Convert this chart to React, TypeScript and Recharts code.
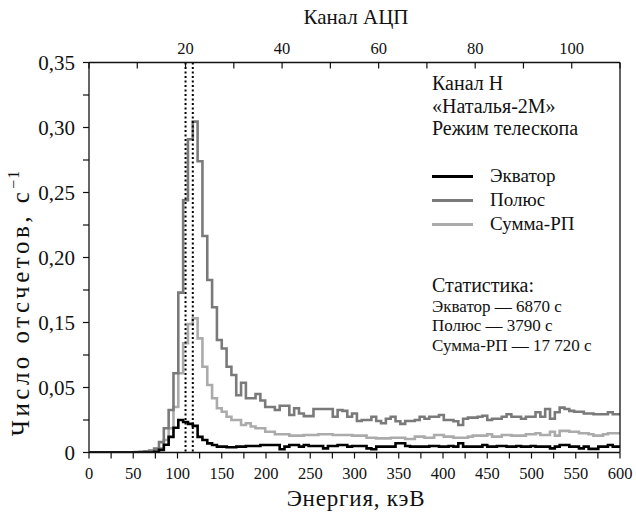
import { LineChart, Line, XAxis, YAxis, ReferenceLine, Legend } from 'recharts'

// channel numbers of the ADC (bins are one channel wide, centred on the number)
const CHANNELS = Array.from({ length: 111 }, (_, i) => i)

const EQUATOR = [
  0, 0, 0, 0, 0, 0, 0, 0, 0, 0,
  0, 0, 0, 0, 0.0005, 0.002, 0.006, 0.012, 0.019, 0.025,
  0.0235, 0.022, 0.0205, 0.012, 0.0096, 0.007, 0.0058, 0.0045, 0.0045, 0.004,
  0.004, 0.0045, 0.0045, 0.005, 0.005, 0.005, 0.0058, 0.0058, 0.0058, 0.0058,
  0.0025, 0.0045, 0.0058, 0.0058, 0.0045, 0.0058, 0.005, 0.005, 0.005, 0.0032,
  0.005, 0.005, 0.0058, 0.0058, 0.0045, 0.005, 0.005, 0.005, 0.0032, 0.0025,
  0.0045, 0.0045, 0.0045, 0.0045, 0.0071, 0.0071, 0.005, 0.0045, 0.0045, 0.0045,
  0.0045, 0.005, 0.005, 0.0045, 0.0045, 0.005, 0.0045, 0.0071, 0.0045, 0.0045,
  0.0045, 0.0045, 0.0058, 0.0045, 0.0045, 0.005, 0.005, 0.0045, 0.0045, 0.005,
  0.0045, 0.0045, 0.005, 0.0045, 0.0045, 0.0045, 0.0032, 0.0045, 0.0058, 0.0058,
  0.0045, 0.0045, 0.0032, 0.0045, 0.0028, 0.0028, 0.0045, 0.0045, 0.0058, 0.0045, 0.0045,
]

const POLE = [
  0, 0, 0, 0, 0, 0, 0, 0, 0, 0,
  0.0003, 0.0006, 0.001, 0.0015, 0.003, 0.008, 0.0186, 0.0327, 0.061, 0.123,
  0.194, 0.241, 0.2545, 0.224, 0.1665, 0.1327, 0.1117, 0.0865, 0.08, 0.066,
  0.0596, 0.044, 0.0537, 0.0417, 0.0417, 0.045, 0.04, 0.035, 0.035, 0.0327,
  0.036, 0.036, 0.0288, 0.034, 0.03, 0.028, 0.028, 0.0335, 0.0335, 0.0335,
  0.0335, 0.0275, 0.0327, 0.032, 0.0275, 0.03, 0.0242, 0.025, 0.025, 0.0275,
  0.0242, 0.0225, 0.026, 0.0275, 0.024, 0.022, 0.0242, 0.0242, 0.025, 0.0275,
  0.026, 0.0275, 0.0275, 0.0288, 0.025, 0.025, 0.024, 0.0212, 0.026, 0.0268,
  0.0268, 0.0275, 0.0283, 0.025, 0.026, 0.026, 0.0275, 0.0294, 0.0275, 0.0275,
  0.026, 0.0275, 0.0275, 0.031, 0.0275, 0.0335, 0.026, 0.031, 0.0345, 0.0335,
  0.032, 0.0314, 0.0314, 0.03, 0.03, 0.0294, 0.0294, 0.0294, 0.031, 0.0294, 0.0294,
]

const SUM_RP = [
  0, 0, 0, 0, 0, 0, 0, 0, 0, 0,
  0, 0.0003, 0.0006, 0.001, 0.002, 0.0032, 0.0096, 0.0186, 0.035, 0.061,
  0.084, 0.0988, 0.1032, 0.0878, 0.066, 0.0519, 0.0417, 0.034, 0.0314, 0.0275,
  0.025, 0.025, 0.0212, 0.0225, 0.02, 0.0186, 0.0186, 0.016, 0.016, 0.014,
  0.014, 0.014, 0.013, 0.013, 0.013, 0.0135, 0.0135, 0.0135, 0.014, 0.014,
  0.014, 0.0135, 0.0135, 0.0135, 0.0135, 0.013, 0.013, 0.013, 0.0114, 0.0114,
  0.0109, 0.0109, 0.0109, 0.0114, 0.0114, 0.0114, 0.0104, 0.0104, 0.0122, 0.0122,
  0.0114, 0.0114, 0.0135, 0.0135, 0.0122, 0.0122, 0.0114, 0.0114, 0.0114, 0.0122,
  0.013, 0.013, 0.013, 0.014, 0.0122, 0.0122, 0.0135, 0.0135, 0.013, 0.013,
  0.013, 0.014, 0.014, 0.0148, 0.0135, 0.0135, 0.016, 0.013, 0.0166, 0.0166,
  0.016, 0.016, 0.0148, 0.0148, 0.014, 0.013, 0.013, 0.014, 0.0148, 0.0148, 0.0148,
]

// energy scale: channel 110 sits at 600 keV
const KEV_PER_CHANNEL = 600 / 110
const ENERGY_TICKS = [0, 25, 50, 75, 100, 125, 150, 175, 200, 225, 250, 275, 300, 325, 350, 375, 400, 425, 450, 475, 500, 525, 550, 575, 600]
const CHANNEL_TICKS = [0, 10, 20, 30, 40, 50, 60, 70, 80, 90, 100, 110]
const CHANNEL_LABELS = [20, 40, 60, 80, 100]
const Y_TICKS = [0, 0.025, 0.05, 0.075, 0.1, 0.125, 0.15, 0.175, 0.2, 0.225, 0.25, 0.275, 0.3]
// labels as printed in the source figure
const Y_TICK_LABELS = ['0', '0,05', '0,15', '0,20', '0,25', '0,30', '0,35']
const MARKERS = [20, 21.5]

const LEGEND = [
  { name: 'Экватор', color: '#000000' },
  { name: 'Полюс', color: '#7a7a7a' },
  { name: 'Сумма-РП', color: '#ababab' },
]
const INFO = ['Канал Н', '«Наталья-2М»', 'Режим телескопа']
const STATS = ['Экватор — 6870 с', 'Полюс — 3790 с', 'Сумма-РП — 17 720 с']

const data = CHANNELS.map((ch, i) => ({
  ch,
  eq: EQUATOR[i],
  pole: POLE[i],
  sum: SUM_RP[i],
}))

const energyTickPos = ENERGY_TICKS.map((e) => e / KEV_PER_CHANNEL)

const FONT = '"Liberation Serif", "Times New Roman", Tinos, "DejaVu Serif", serif'
const xTickStyle = { fill: '#111', fontSize: 16.5, fontFamily: FONT }
const yTickStyle = { fill: '#111', fontSize: 21, fontFamily: FONT }

const LegendBox = () => (
  <div style={{ fontFamily: FONT, fontSize: 19, color: '#111' }}>
    {LEGEND.map((l) => (
      <div key={l.name} style={{ display: 'flex', alignItems: 'center', height: 24 }}>
        <span style={{ display: 'inline-block', width: 41, height: 3, background: l.color, marginRight: 17 }} />
        {l.name}
      </div>
    ))}
  </div>
)

export default function App() {
  return (
    <div style={{ position: 'absolute', left: 0, top: 0, width: 636, height: 515, background: '#fff', fontFamily: FONT }}>
      <LineChart width={636} height={515} data={data} margin={{ top: 32, right: 15, bottom: 32, left: 29 }}>
        <XAxis
          xAxisId="energy"
          dataKey="ch"
          type="number"
          domain={[0, 110]}
          allowDataOverflow
          ticks={energyTickPos}
          tickFormatter={(v: number) => {
            const e = Math.round(v * KEV_PER_CHANNEL)
            return e % 50 === 0 ? String(e) : ''
          }}
          interval={0}
          height={30.5}
          tick={xTickStyle}
          tickSize={6}
          tickMargin={9}
          axisLine={{ stroke: '#111', strokeWidth: 1.3 }}
          tickLine={{ stroke: '#111', strokeWidth: 1.2 }}
        />
        <XAxis
          xAxisId="chan"
          dataKey="ch"
          type="number"
          orientation="top"
          domain={[0, 110]}
          allowDataOverflow
          ticks={CHANNEL_TICKS}
          tickFormatter={(v: number) => (CHANNEL_LABELS.includes(v) ? String(v) : '')}
          interval={0}
          height={30.5}
          tick={xTickStyle}
          tickSize={-6}
          tickMargin={15}
          axisLine={{ stroke: '#111', strokeWidth: 1.3 }}
          tickLine={{ stroke: '#111', strokeWidth: 1.2 }}
        />
        <YAxis
          yAxisId="left"
          type="number"
          domain={[0, 0.3]}
          allowDataOverflow
          ticks={Y_TICKS}
          interval={0}
          tickFormatter={(_v: number, i: number) => (i % 2 === 0 ? Y_TICK_LABELS[i / 2] : '')}
          width={60}
          tick={yTickStyle}
          tickSize={6}
          tickMargin={8}
          axisLine={{ stroke: '#111', strokeWidth: 1.3 }}
          tickLine={{ stroke: '#111', strokeWidth: 1.2 }}
        />
        <YAxis
          yAxisId="right"
          orientation="right"
          type="number"
          domain={[0, 0.3]}
          allowDataOverflow
          ticks={Y_TICKS}
          interval={0}
          width={1}
          tick={false}
          tickSize={-5}
          axisLine={{ stroke: '#111', strokeWidth: 1.3 }}
          tickLine={{ stroke: '#111', strokeWidth: 1.2 }}
        />
        <Line xAxisId="chan" yAxisId="left" type="step" dataKey="sum" name="Сумма-РП" stroke="#ababab" strokeWidth={2.6} dot={false} isAnimationActive={false} />
        <Line xAxisId="chan" yAxisId="left" type="step" dataKey="pole" name="Полюс" stroke="#7a7a7a" strokeWidth={2.6} dot={false} isAnimationActive={false} />
        <Line xAxisId="chan" yAxisId="left" type="step" dataKey="eq" name="Экватор" stroke="#000" strokeWidth={2.6} dot={false} isAnimationActive={false} />
        {MARKERS.map((m) => (
          <ReferenceLine key={m} xAxisId="chan" yAxisId="left" x={m} stroke="#000" strokeWidth={2} strokeDasharray="2 2.5" />
        ))}
        <Legend
          layout="vertical"
          align="center"
          verticalAlign="middle"
          content={<LegendBox />}
          wrapperStyle={{ left: 432, top: 164, width: 190, height: 72 }}
        />
      </LineChart>

      <div style={{ position: 'absolute', left: 276, top: 5, width: 160, textAlign: 'center', fontSize: 21, color: '#111', whiteSpace: 'nowrap' }}>
        Канал АЦП
      </div>
      <div style={{ position: 'absolute', left: 236, top: 486, width: 240, textAlign: 'center', fontSize: 23, letterSpacing: 0.8, color: '#111', whiteSpace: 'nowrap' }}>
        Энергия, кэВ
      </div>
      <div
        style={{
          position: 'absolute',
          left: 20,
          top: 303,
          transform: 'translate(-50%, -50%) rotate(-90deg)',
          fontSize: 25,
          letterSpacing: 3.5,
          color: '#111',
          whiteSpace: 'nowrap',
        }}
      >
        Число отсчетов, с<sup style={{ fontSize: 16, letterSpacing: 1 }}>−1</sup>
      </div>
      <div style={{ position: 'absolute', left: 432, top: 72, fontSize: 20, lineHeight: '22.5px', color: '#111', whiteSpace: 'nowrap' }}>
        {INFO.map((t) => (
          <div key={t}>{t}</div>
        ))}
      </div>
      <div style={{ position: 'absolute', left: 432, top: 273.5, color: '#111', whiteSpace: 'nowrap' }}>
        <div style={{ fontSize: 20, lineHeight: '23px' }}>Статистика:</div>
        {STATS.map((t) => (
          <div key={t} style={{ fontSize: 17, lineHeight: '19.5px' }}>{t}</div>
        ))}
      </div>
    </div>
  )
}
